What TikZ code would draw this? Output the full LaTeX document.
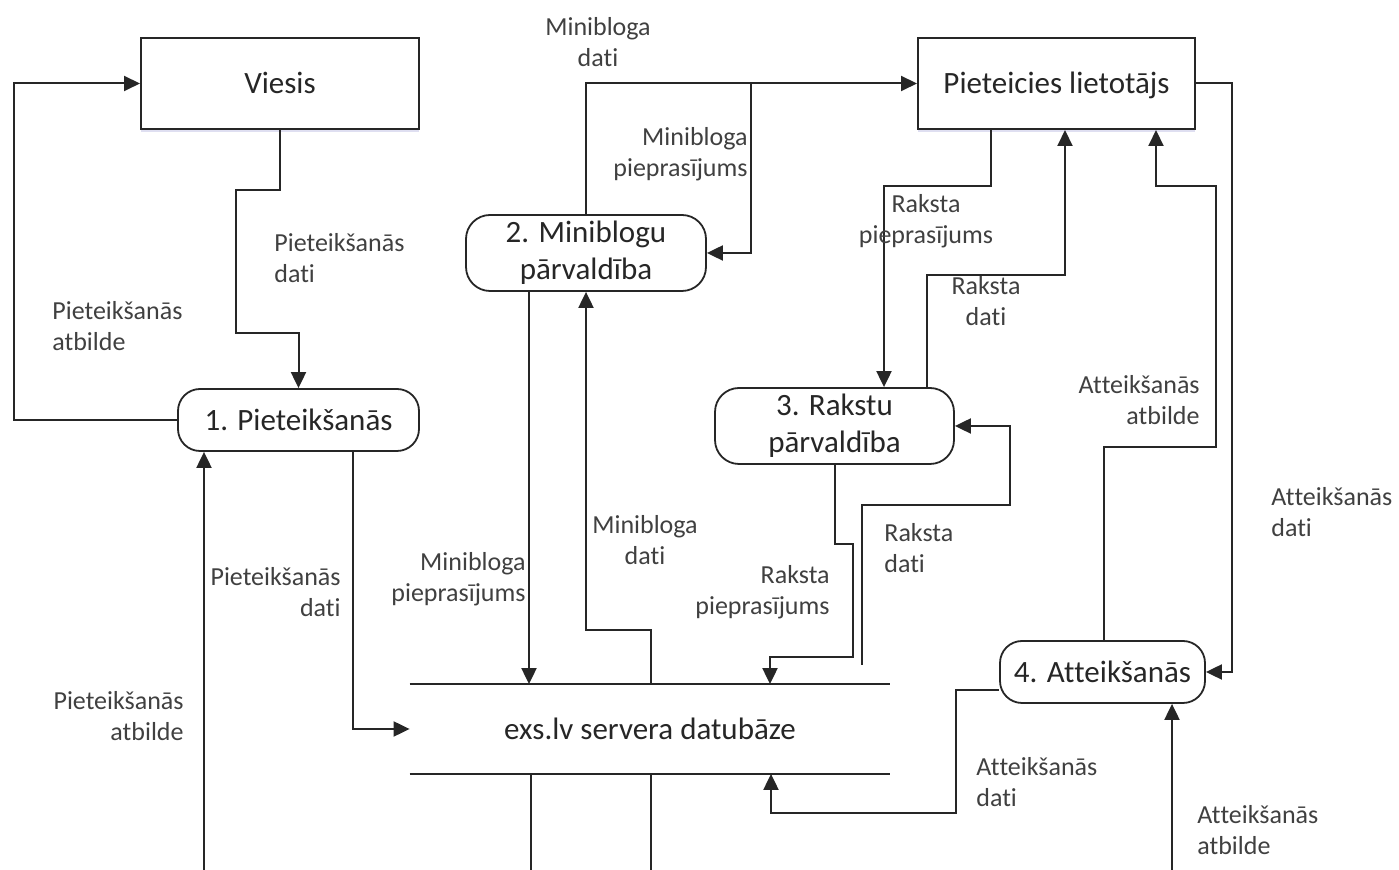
\documentclass[tikz,border=0pt]{standalone}
\usepackage{fontspec}
\setmainfont{Carlito}[Ligatures={NoCommon,NoContextual},RawFeature={-liga;-clig;-calt;-dlig}]
\usetikzlibrary{arrows.meta,shadows}
\definecolor{ln}{HTML}{262626}
\definecolor{lbl}{HTML}{404040}
\newcommand\wDati{dat\kern0pt i}
\newcommand\wAtt{At\kern0pt teikšanās}
\begin{document}
\begin{tikzpicture}[x=0.5pt,y=-0.5pt,
  ent/.style={draw=ln,line width=1pt,fill=white,minimum height=45.5pt,inner sep=0pt,
     font=\fontsize{15.5}{18.5}\selectfont,text=ln,text height=13.5pt,text depth=3pt,
     drop shadow={shadow xshift=0pt,shadow yshift=-1.5pt,fill=blue!40!gray,opacity=0.18}},
  proc/.style={draw=ln,line width=0.9pt,fill=white,rounded corners=12pt,inner sep=0pt,align=center,
     font=\fontsize{15.5}{18.5}\selectfont,text=ln},
  lab/.style={inner sep=0pt,font=\fontsize{13}{15.5}\selectfont,text=lbl},
  flow/.style={draw=ln,line width=1pt,-{Triangle[length=8pt,width=7.5pt]}},
  plain/.style={draw=ln,line width=1pt}]
\useasboundingbox (0,0) rectangle (1399,870);

% entities
\node[ent,minimum width=139pt] (viesis) at (280,83.5) {Viesis};
\node[ent,minimum width=138.5pt] (user) at (1056.5,83.5) {Pieteicies lietotājs};

% processes
\node[proc,minimum width=120.5pt,minimum height=31pt,rounded corners=11pt] (p1) at (298.5,420) {1. Pieteikšanās};
\node[proc,minimum width=120pt,minimum height=38pt] (p2) at (586,253) {2. Miniblogu\\pārvaldība};
\node[proc,minimum width=119.5pt,minimum height=38pt] (p3) at (834.5,426) {3. Rakstu\\pārvaldība};
\node[proc,minimum width=102.5pt,minimum height=31pt,rounded corners=11pt] (p4) at (1102.5,672) {4. \wAtt};

% data store
\node[inner sep=0pt,minimum width=240pt,minimum height=44.5pt,font=\fontsize{15.5}{18.5}\selectfont,text=ln] (db) at (650,729) {exs.lv servera datubāze};
\draw[plain] (db.north west) -- (db.north east);
\draw[plain] (db.south west) -- (db.south east);

% helper coordinates
\coordinate (a1) at (280,190); \coordinate (a2) at (236,190);
\coordinate (a3) at (236,333); \coordinate (a4) at (298.5,333);
\coordinate (b1) at (14,420); \coordinate (b2) at (14,83.5);
\coordinate (c1) at (204,870);
\coordinate (d1) at (353,500);
\coordinate (f1) at (751,83.5);
\coordinate (g1) at (529,500);
\coordinate (h1) at (651,630);
\coordinate (i1) at (991,186); \coordinate (i2) at (884,186);
\coordinate (j1) at (927,275); \coordinate (j2) at (1065,275);
\coordinate (k0) at (862,665); \coordinate (k1) at (862,505); \coordinate (k2) at (1010,505);
\coordinate (l1) at (834.5,544); \coordinate (l2) at (853,544);
\coordinate (l3) at (853,657); \coordinate (l4) at (770,657);
\coordinate (m1) at (1232,300);
\coordinate (n1) at (1104,447); \coordinate (n2) at (1216,447);
\coordinate (n3) at (1216,186); \coordinate (n4) at (1156,186);
\coordinate (o1) at (956,690); \coordinate (o2) at (956,813); \coordinate (o3) at (771,813);
\coordinate (p0) at (1172,870);
\coordinate (q1) at (531,870); \coordinate (q2) at (651,870);

% connectors
\draw[flow] (viesis.south) -- (a1) -- (a2) -- (a3) -- (a4) -- (p1.north);
\draw[flow] (p1.west) -- (b1) -- (b2) -- (viesis.west);
\draw[flow] (c1) -- (c1 |- p1.south);
\draw[flow] (p1.south -| d1) |- (db.west);
\draw[flow] (p2.north) |- (user.west);
\draw[flow] (f1) |- (p2.east);
\draw[flow] (p2.south -| g1) -- (db.north -| g1);
\draw[flow] (db.north -| h1) -- (h1) -| (p2.south);
\draw[flow] (user.south -| i1) -- (i1) -- (i2) -- (p3.north -| i2);
\draw[flow] (p3.north -| j1) -- (j1) -- (j2) -- (user.south -| j2);
\draw[flow] (k0) -- (k1) -- (k2) |- (p3.east);
\draw[flow] (p3.south) -- (l1) -- (l2) -- (l3) -- (l4) -- (db.north -| l4);
\draw[flow] (user.east) -| (m1 |- p4.east) -- (p4.east);
\draw[flow] (p4.north -| n1) -- (n1) -- (n2) -- (n3) -- (n4) -- (user.south -| n4);
\draw[flow] (p4.west |- o1) -- (o1) -- (o2) -- (o3) -- (db.south -| o3);
\draw[flow] (p0) -- (p4.south -| p0);
\draw[plain] (db.south -| q1) -- (q1);
\draw[plain] (db.south -| q2) -- (q2);

% labels
\node[lab,align=left,anchor=west] (lA) at (274,258.5) {Pieteikšanās\\\wDati};
\node[lab,align=left,anchor=west] (lB) at (52,326.5) {Pieteikšanās\\atbilde};
\node[lab,align=right,anchor=east] (lC) at (184,716.5) {Pieteikšanās\\atbilde};
\node[lab,align=right,anchor=east] (lD) at (341,592) {Pieteikšanās\\\wDati};
\node[lab,align=center] (lE) at (598,42.5) {Minibloga\\\wDati};
\node[lab,align=right,anchor=east] (lF) at (748,154.5) {Minibloga\\pieprasījums};
\node[lab,align=right,anchor=east] (lG) at (526,579.5) {Minibloga\\pieprasījums};
\node[lab,align=center] (lH) at (645,540.5) {Minibloga\\\wDati};
\node[lab,align=center] (lI) at (926,221.5) {Raksta\\pieprasījums};
\node[lab,align=center] (lJ) at (986,301.5) {Raksta\\\wDati};
\node[lab,align=left,anchor=west] (lK) at (884,548.5) {Raksta\\\wDati};
\node[lab,align=right,anchor=east] (lL) at (830,592.5) {Raksta\\pieprasījums};
\node[lab,align=left,anchor=west] (lM) at (1271,512) {\wAtt\\\wDati};
\node[lab,align=right,anchor=east] (lN) at (1200,400.5) {\wAtt\\atbilde};
\node[lab,align=left,anchor=west] (lO) at (976,782.5) {\wAtt\\\wDati};
\node[lab,align=left,anchor=west] (lP) at (1197,830.5) {\wAtt\\atbilde};
\end{tikzpicture}
\end{document}
